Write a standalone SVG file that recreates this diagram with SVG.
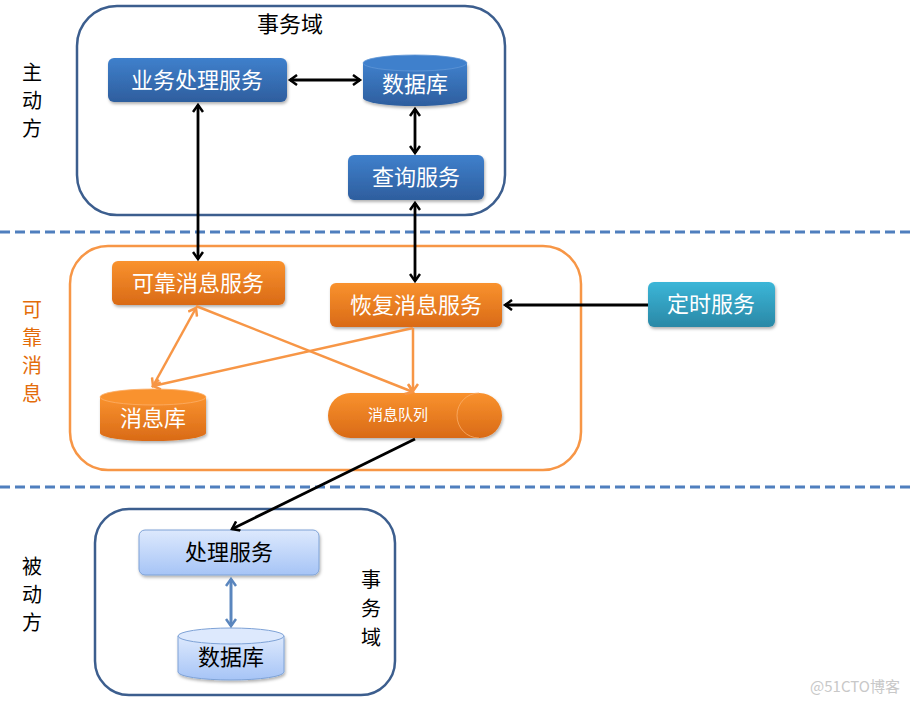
<svg xmlns="http://www.w3.org/2000/svg" width="913" height="703" viewBox="0 0 913 703">
<defs>
<linearGradient id="gBlue" x1="0" y1="0" x2="0" y2="1"><stop offset="0" stop-color="#3F80CC"/><stop offset="1" stop-color="#2E5E9E"/></linearGradient>
<linearGradient id="gOrange" x1="0" y1="0" x2="0" y2="1"><stop offset="0" stop-color="#F9922E"/><stop offset="1" stop-color="#D96A16"/></linearGradient>
<linearGradient id="gTeal" x1="0" y1="0" x2="0" y2="1"><stop offset="0" stop-color="#3BB6D8"/><stop offset="1" stop-color="#2A88A6"/></linearGradient>
<linearGradient id="gLight" x1="0" y1="0" x2="0" y2="1"><stop offset="0" stop-color="#DDE9FD"/><stop offset="1" stop-color="#A6C4F6"/></linearGradient>
<filter id="sh" x="-10%" y="-10%" width="130%" height="140%"><feDropShadow dx="1" dy="2" stdDeviation="1.5" flood-color="#000" flood-opacity="0.3"/></filter>
<marker id="aK" markerWidth="12" markerHeight="12" refX="9" refY="6" orient="auto-start-reverse" markerUnits="userSpaceOnUse"><path d="M2,1 L9,6 L2,11" fill="none" stroke="#000" stroke-width="2.5"/></marker>
<marker id="aO" markerWidth="12" markerHeight="12" refX="9" refY="6" orient="auto-start-reverse" markerUnits="userSpaceOnUse"><path d="M2,1 L9,6 L2,11" fill="none" stroke="#F79646" stroke-width="2.5"/></marker>
<marker id="aB" markerWidth="12" markerHeight="12" refX="9" refY="6" orient="auto-start-reverse" markerUnits="userSpaceOnUse"><path d="M2,1 L9,6 L2,11" fill="none" stroke="#5A86BE" stroke-width="2.5"/></marker>
</defs>
<style>
text{font-family:"Noto Sans CJK SC","Noto Sans",sans-serif;}
.w{fill:#fff;font-size:22px;text-anchor:middle;}
.k{fill:#000;font-size:22px;text-anchor:middle;}
.v{fill:#000;font-size:20px;text-anchor:middle;}
.lbl{font-size:20px;text-anchor:middle;}
.frameB{fill:none;stroke:#3C5E8E;stroke-width:2.5;}
.frameO{fill:none;stroke:#F79646;stroke-width:2.5;}
.dash{stroke:#4F7FBE;stroke-width:3;stroke-dasharray:10 5;}
.ck{fill:none;stroke:#000;stroke-width:2.8;}
.co{fill:none;stroke:#F79646;stroke-width:2.5;}
.cb{fill:none;stroke:#5A86BE;stroke-width:3;}
</style>

<g id="frames">
<rect x="77" y="6" width="428" height="209" rx="40" class="frameB"/>
<rect x="70" y="246" width="511" height="224" rx="38" class="frameO"/>
<rect x="95" y="509" width="300" height="186" rx="34" class="frameB"/>
<line x1="0" y1="232" x2="913" y2="232" class="dash"/>
<line x1="0" y1="487" x2="913" y2="487" class="dash"/>
</g>

<g id="labels">
<text x="290" y="32" class="k">事务域</text>
<text x="32" y="80" class="lbl" fill="#000">主</text>
<text x="32" y="108" class="lbl" fill="#000">动</text>
<text x="32" y="136" class="lbl" fill="#000">方</text>
<text x="32" y="317" class="lbl" fill="#E36C0A">可</text>
<text x="32" y="345" class="lbl" fill="#E36C0A">靠</text>
<text x="32" y="373" class="lbl" fill="#E36C0A">消</text>
<text x="32" y="401" class="lbl" fill="#E36C0A">息</text>
<text x="32" y="574" class="lbl" fill="#000">被</text>
<text x="32" y="602" class="lbl" fill="#000">动</text>
<text x="32" y="630" class="lbl" fill="#000">方</text>
<text x="371" y="587" class="v">事</text>
<text x="371" y="616" class="v">务</text>
<text x="371" y="645" class="v">域</text>
<text x="855" y="692" fill="#C8C8C8" font-size="15" text-anchor="middle">@51CTO博客</text>
</g>

<g id="biz">
<rect x="108" y="58" width="179" height="44" rx="6" fill="url(#gBlue)" filter="url(#sh)"/>
<text x="197" y="88" class="w">业务处理服务</text>
</g>
<g id="db1">
<path d="M363,63 L363,98 A52,8 0 0 0 467,98 L467,63 Z" fill="url(#gBlue)" filter="url(#sh)"/>
<ellipse cx="415" cy="63" rx="52" ry="8" fill="#3F80CC" stroke="#5F96D6" stroke-width="0.8"/>
<text x="415" y="92" class="w">数据库</text>
</g>
<g id="query">
<rect x="348" y="155" width="136" height="45" rx="6" fill="url(#gBlue)" filter="url(#sh)"/>
<text x="416" y="185" class="w">查询服务</text>
</g>
<g id="reliable">
<rect x="112" y="261" width="173" height="44" rx="6" fill="url(#gOrange)" filter="url(#sh)"/>
<text x="198" y="291" class="w">可靠消息服务</text>
</g>
<g id="recover">
<rect x="330" y="283" width="172" height="44" rx="6" fill="url(#gOrange)" filter="url(#sh)"/>
<text x="416" y="313" class="w">恢复消息服务</text>
</g>
<g id="timer">
<rect x="648" y="282" width="127" height="45" rx="6" fill="url(#gTeal)" filter="url(#sh)"/>
<text x="711" y="312" class="w">定时服务</text>
</g>
<g id="msgdb">
<path d="M100,397 L100,433 A53,8 0 0 0 206,433 L206,397 Z" fill="url(#gOrange)" filter="url(#sh)"/>
<ellipse cx="153" cy="397" rx="53" ry="8" fill="#F9922E" stroke="#FBAF6A" stroke-width="0.8"/>
<text x="153" y="426" class="w">消息库</text>
</g>
<g id="mq">
<rect x="328" y="393" width="174" height="45" rx="22.5" fill="url(#gOrange)" filter="url(#sh)"/>
<path d="M479,393 A22,22.5 0 0 0 479,438" fill="none" stroke="#FBAF6A" stroke-width="0.8"/>
<text x="398" y="420" class="w" style="font-size:15px">消息队列</text>
</g>
<g id="proc">
<rect x="139" y="530" width="180" height="45" rx="6" fill="url(#gLight)" stroke="#7EA2D6" stroke-width="1" filter="url(#sh)"/>
<text x="229" y="560" class="k">处理服务</text>
</g>
<g id="db2">
<path d="M178,636 L178,672 A53,8 0 0 0 284,672 L284,636 Z" fill="url(#gLight)" stroke="#7EA2D6" stroke-width="1" filter="url(#sh)"/>
<ellipse cx="231" cy="636" rx="53" ry="8" fill="#DDE9FD" stroke="#7EA2D6" stroke-width="1"/>
<text x="231" y="665" class="k">数据库</text>
</g>

<g id="connectors">
<line x1="290" y1="80" x2="360" y2="80" class="ck" marker-start="url(#aK)" marker-end="url(#aK)"/>
<line x1="415" y1="109" x2="415" y2="153" class="ck" marker-start="url(#aK)" marker-end="url(#aK)"/>
<line x1="198" y1="105" x2="198" y2="259" class="ck" marker-start="url(#aK)" marker-end="url(#aK)"/>
<line x1="415" y1="203" x2="415" y2="281" class="ck" marker-start="url(#aK)" marker-end="url(#aK)"/>
<line x1="648" y1="305" x2="505" y2="305" class="ck" marker-end="url(#aK)"/>
<line x1="415" y1="439" x2="232" y2="529" class="ck" marker-end="url(#aK)"/>
<line x1="196" y1="308" x2="153" y2="386" class="co" marker-start="url(#aO)" marker-end="url(#aO)"/>
<line x1="196" y1="306" x2="413" y2="392" class="co" marker-end="url(#aO)"/>
<line x1="413" y1="328" x2="153" y2="386" class="co" marker-end="url(#aO)"/>
<line x1="413" y1="328" x2="413" y2="391" class="co" marker-end="url(#aO)"/>
<line x1="231" y1="579" x2="231" y2="626" class="cb" marker-start="url(#aB)" marker-end="url(#aB)"/>
</g>
</svg>
